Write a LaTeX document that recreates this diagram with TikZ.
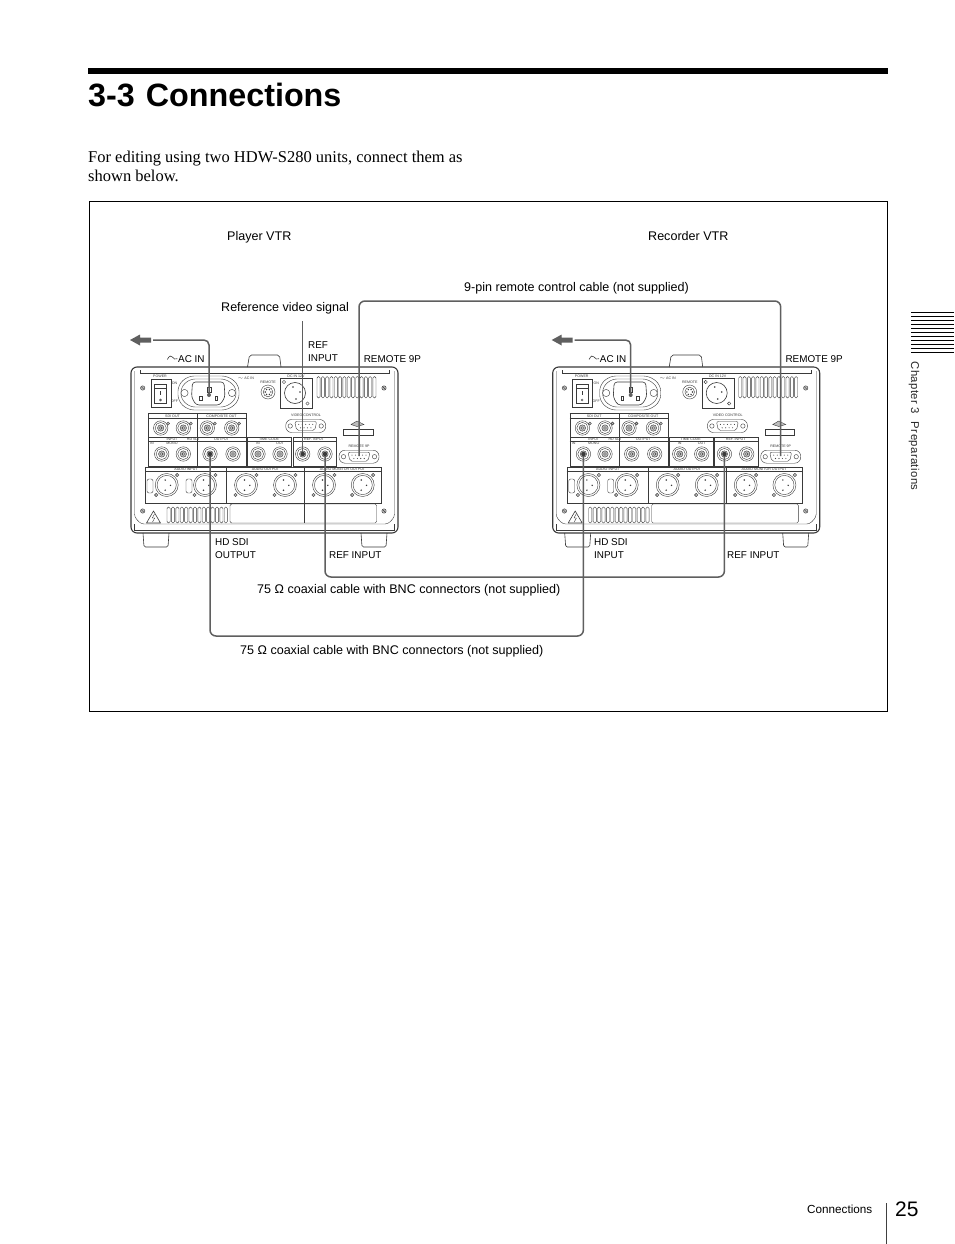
\documentclass[tikz,border=0pt]{standalone}
\usepackage{fontspec}
\setmainfont{Liberation Serif}
\setsansfont{Liberation Sans}
\newcommand{\Bnc}[2]{%
  \draw[dev] (#1,#2) circle (7.2);
  \draw[dev] (#1,#2) circle (5.6);
  \draw[dev,fill=devgray] (#1,#2) circle (3.2);
  \draw[dev,fill=white] (#1,#2) circle (1.3);
}
\newcommand{\Xlr}[2]{%
  \draw[dev] (#1,#2) circle (11.5);
  \draw[dev] (#1,#2) circle (9.6);
  \fill[devdark] (#1-1.5,#2-5) circle (.8) (#1+3.8,#2+.3) circle (.8) (#1-1.5,#2+5.2) circle (.8);
  \draw[dev,fill=devgray] (#1+10.5,#2-10) circle (1.7);
  \draw[dev,fill=devgray] (#1-10.5,#2+10) circle (1.7);
}
\newcommand{\Dsub}[2]{%
  \draw[dev,rounded corners=6] (#1-20,#2-6.5) rectangle (#1+20,#2+6.5);
  \draw[dev,rounded corners=2,fill=white] (#1-11,#2-4.5) -- (#1+11,#2-4.5) -- (#1+9,#2+4.5) -- (#1-9,#2+4.5) -- cycle;
  \foreach \k in {-7,-3.5,0,3.5,7} \fill[devdark] (#1+\k,#2-1.6) circle (.55);
  \foreach \k in {-5.2,-1.7,1.7,5.2} \fill[devdark] (#1+\k,#2+1.8) circle (.55);
  \draw[dev] (#1-15.5,#2) circle (2.2) (#1+15.5,#2) circle (2.2);
}
\newcommand{\Screw}[2]{%
  \draw[dev,fill=devgray] (#1,#2) circle (2.2);
  \draw[dev] (#1-1.3,#2-1.3) -- (#1+1.3,#2+1.3);
}
\newcommand{\Tiny}[3]{\node[tiny] at (#1,#2) {#3};}
\newcommand{\VtrUnit}[3]{%
\begin{scope}[shift={(#1,0)},name prefix=#2-]
  % feet and handle
  \draw[devl,rounded corners=1.5] (143,533) -- (144,547) -- (168,547) -- (169,533);
  \draw[devl,rounded corners=1.5] (361,533) -- (362,547) -- (386,547) -- (387,533);
  \draw[devl,rounded corners=2] (247.5,367) -- (249.5,355) -- (279.5,355) -- (281,367);
  % body
  \draw[devl,line width=1.1pt,rounded corners=6] (131,367) rectangle (398,533);
  \draw[dev,rounded corners=3] (134.5,371) -- (134.5,517) -- (141,524) -- (388,524) -- (394.5,517) -- (394.5,371);
  \draw[dev] (140,370) -- (140,373.5) -- (389,373.5) -- (389,370);
  \draw[dev] (134.5,524) -- (134.5,530) -- (394.5,530) -- (394.5,524);
  % screws
  \Screw{142.7}{388}\Screw{384}{388}\Screw{142.7}{511}\Screw{384}{511}
  % power
  \draw[dev] (150.7,379) rectangle (170.7,407);
  \draw[dev] (154.5,384) rectangle (166.5,403);
  \draw[dev] (154.5,388.5) -- (166.5,388.5);
  \draw[devl] (160.5,391) -- (160.5,395);
  \draw[dev] (160.5,400) circle (1);
  \Tiny{160}{376.2}{POWER}\Tiny{174.5}{383}{ON}\Tiny{174.5}{401}{OFF}
  % AC inlet
  \draw[dev,rounded corners=6] (188,376) -- (228,376) -- (239,385) -- (239,401) -- (228,410) -- (188,410) -- (178,401) -- (178,385) -- cycle;
  \draw[dev,rounded corners=5] (190,379) -- (226,379) -- (236,387) -- (236,399) -- (226,407) -- (190,407) -- (181,399) -- (181,387) -- cycle;
  \draw[dev] (184.5,393) circle (3.6) (232,393) circle (3.6);
  \draw[devl,fill=white,rounded corners=3] (192.5,382) -- (224,382) -- (225,397) -- (220,405) -- (196,405) -- (191.5,397) -- cycle;
  \draw[devl] (199.5,396) rectangle (202,400.5) (215,396) rectangle (217.5,400.5);
  \draw[devl] (207.5,387) rectangle (211,392.5);
  \Tiny{246}{378}{$\sim$ AC IN}
  % remote
  \draw[dev] (268,392) circle (7);
  \draw[dev] (268,392) circle (4.8);
  \foreach \a in {0,60,...,300} \fill[devdark] (268,392) ++(\a:2.8) circle (.8);
  \Tiny{268}{382}{REMOTE}
  % DC in
  \draw[dev,fill=white] (280,378) rectangle (312,408);
  \draw[devl] (295,393) circle (10.5);
  \fill[devdark] (293,387) circle (.8) (300,392) circle (.8) (296,399) circle (.8);
  \draw[dev] (284,382) circle (1.7) (307.5,403.5) circle (1.7);
  \Tiny{296}{376}{DC IN 12V}
  % vents
  \foreach \k in {0,...,13} \draw[dev,rounded corners=1.5] (317+\k*4.3,376.5) rectangle +(3.1,21.5);
  % top row panels
  \draw[dev] (148,413.5) -- (246,413.5) -- (246,437) (148,437) -- (148,413.5) (197,413.5) -- (197,437);
  \draw[dev] (148,418) -- (246,418);
  \Tiny{172.5}{415.8}{SDI OUT}\Tiny{221.5}{415.8}{COMPOSITE OUT}
  \foreach \x in {160.7,183.3,207.3,231.7} {\Bnc{\x}{428}\draw[dev,fill=devgray] (\x+7.5,423.5) circle (1.5);}
  % second row panels
  \draw[dev] (148,437) rectangle (246,466) (197,437) -- (197,466);
  \draw[dev] (148,441.5) -- (246,441.5);
  \Tiny{172}{439.3}{INPUT}\Tiny{193}{439.3}{HD SDI}\Tiny{221.5}{439.3}{OUTPUT}\Tiny{152}{443.5}{IN}\Tiny{172}{443.5}{MONO}
  \Bnc{161.7}{454}\Bnc{183.3}{454}\Bnc{210}{454}\Bnc{233}{454}
  \coordinate (hdin) at (161.7,454);
  \coordinate (hdout) at (210,454);
  \draw[dev] (247,437) rectangle (291,466) (292.7,437) rectangle (336,466);
  \draw[dev] (247,441.5) -- (291,441.5) (292.7,441.5) -- (336,441.5);
  \Tiny{269}{439.3}{TIME CODE}\Tiny{314}{439.3}{REF. INPUT}\Tiny{258}{443.5}{IN}\Tiny{280}{443.5}{OUT}
  \Bnc{258}{454}\Bnc{280}{454}\Bnc{302.7}{454}\Bnc{325}{454}
  \coordinate (refa) at (302.7,454);
  \coordinate (refb) at (325,454);
  % video control and remote
  \Tiny{306}{415.5}{VIDEO CONTROL}
  \Dsub{305.7}{426}
  \Dsub{359}{456.7}
  \Tiny{359}{446.7}{REMOTE 9P}
  \coordinate (rem) at (359,456);
  \draw[devl,fill=white] (343.3,429) rectangle (373,435);
  \draw[dev,fill=devgray] (351,424.5) -- (357,421) -- (364,424.5) -- (357,426.5) -- cycle;
  % audio panel
  \draw[dev] (145,466.7) rectangle (380.7,503.3);
  \draw[devl] (226.7,466.7) -- (226.7,503.3);
  \draw[devl] (304.3,466.7) -- (304.3,503.3);
  \draw[dev] (145,471) -- (380.7,471);
  \Tiny{186}{468.8}{AUDIO INPUT}\Tiny{265.5}{468.8}{AUDIO OUTPUT}\Tiny{342.5}{468.8}{AUDIO MONITOR OUTPUT}
  \foreach \x in {166.7,205,246,285,324,362.7} {\Xlr{\x}{485}}
  \draw[dev,rounded corners=2] (147,479) rectangle (153,493);
  \draw[dev,rounded corners=2] (186,479) rectangle (192,493);
  % bottom panels
  \foreach \k in {0,...,13} \draw[dev,rounded corners=1.5] (167+\k*4.4,507) rectangle +(3.2,16);
  \draw[devl,line join=round] (146.5,523) -- (153.5,511) -- (160.5,523) -- cycle;
  \draw[dev] (154.5,514) -- (152.3,518) -- (154.7,518) -- (152.5,522);
  \draw[dev,rounded corners=1.5] (230,504) rectangle (376.7,523);
  #3
  % labels
  \draw[devl] (167.3,359.5) .. controls (169.5,355.3) and (171,355.3) .. (172.3,357) .. controls (173.5,358.7) and (175.5,360) .. (177.3,358.7);
  \node[caplbl,anchor=base west,inner sep=0pt] (acin) at (178,362) {AC IN};
  \node[caplbl,anchor=base west,inner sep=0pt] (remlbl) at (363.6,362) {REMOTE 9P};
  % AC plug
  \coordinate (acplug) at (209,395);
  \coordinate (actail) at (153,340);
  \fill[cablegray] (130,340) -- (140,334.5) -- (140,337.5) -- (151,337.5) -- (151,342.5) -- (140,342.5) -- (140,345.5) -- cycle;
  \draw[cable,rounded corners=5] (actail) -| (acplug);
  \fill[cablegray] (acplug) circle (2);
\end{scope}}
\tikzset{
  lbl/.style={font=\sffamily\fontsize{12.55}{14}\selectfont,text=black,align=left},
  caplbl/.style={font=\sffamily\fontsize{9.9}{13}\selectfont,text=black,align=left},
  tiny/.style={font=\sffamily\fontsize{3.6}{4}\selectfont,text=devdark,inner sep=0pt},
  dev/.style={draw=devdark,line width=.4pt},
  devl/.style={draw=devdark,line width=.6pt},
  cable/.style={draw=cablegray,line width=1.5pt},
}
\definecolor{devdark}{HTML}{3A3A3A}
\definecolor{devgray}{HTML}{BDBDBD}
\definecolor{cablegray}{HTML}{5F5F5F}
\begin{document}
\begin{tikzpicture}[x=1pt,y=-1pt]
\useasboundingbox (0,0) rectangle (954,1244);
\fill[white] (0,0) rectangle (954,1244);
% heading
\fill[black] (88,68) rectangle (888,74);
\node[font=\sffamily\bfseries\fontsize{32.3}{36}\selectfont,anchor=base west,inner sep=0pt] (title) at (88,106.5) {3-3\hspace{.34em}Connections};
\node[font=\fontsize{16.5}{19}\selectfont,anchor=north west,inner sep=0pt,align=left] (intro) at (88,150.5) {For editing using two HDW-S280 units, connect them as\\shown below.};
% frame
\draw[black,line width=.9pt] (89,201.8) rectangle (887.6,711.6);
% units
\VtrUnit{0}{p}{\draw[dev] (304.3,504) -- (304.3,523);}
\VtrUnit{421.7}{r}{}
% labels
\node[lbl,anchor=base west,inner sep=0pt] (playerlbl) at (227,240.5) {Player VTR};
\node[lbl,anchor=base west,inner sep=0pt] (recorderlbl) at (648,240.5) {Recorder VTR};
\node[lbl,anchor=base west,inner sep=0pt] (pinlbl) at (464,291) {9-pin remote control cable (not supplied)};
\node[lbl,anchor=base west,inner sep=0pt] (reflbl) at (221,311) {Reference video signal};
\node[caplbl,anchor=west,inner sep=0pt] (refin) at (308,351.5) {REF\\INPUT};
\node[caplbl,anchor=west,inner sep=0pt] (hdo) at (215,548.5) {HD SDI\\OUTPUT};
\node[caplbl,anchor=base west,inner sep=0pt] (rio) at (329,558) {REF INPUT};
\node[caplbl,anchor=west,inner sep=0pt] (hdi) at (594,548.5) {HD SDI\\INPUT};
\node[caplbl,anchor=base west,inner sep=0pt] (rii) at (727,558) {REF INPUT};
\node[lbl,anchor=base west,inner sep=0pt] (coax1) at (257,593) {75 Ω coaxial cable with BNC connectors (not supplied)};
\node[lbl,anchor=base west,inner sep=0pt] (coax2) at (240,654) {75 Ω coaxial cable with BNC connectors (not supplied)};
% cables
\coordinate (refsrc) at (302.7,321);
\coordinate (toprail) at (570,301);
\coordinate (railb) at (500,577);
\coordinate (raila) at (400,636);
\draw[cable] (refsrc) -- (p-refa);
\draw[cable,rounded corners=6] (p-rem) |- (toprail) -| (r-rem);
\draw[cable,rounded corners=6] (p-refb) |- (railb) -| (r-refa);
\draw[cable,rounded corners=6] (p-hdout) |- (raila) -| (r-hdin);
\foreach \c in {p-hdout,p-refb,p-refa,r-hdin,r-refa} \fill[devdark] (\c) circle (2.2);
% side tab
\foreach \k in {0,...,10} \draw[black,line width=.7pt] (911,312.7+\k*4) -- (954,312.7+\k*4);
\node[font=\sffamily\fontsize{11.3}{12}\selectfont,text=black!85,rotate=-90,anchor=base west,inner sep=0pt] (chap) at (911,361.5) {\addfontfeature{LetterSpace=3.5}Chapter 3\hspace{.7em}Preparations};
% footer
\node[font=\sffamily\fontsize{11.7}{13}\selectfont,anchor=base west,inner sep=0pt] (foot) at (807,1213) {Connections};
\draw[black!75,line width=.7pt] (886,1203) -- (886,1244);
\node[font=\sffamily\fontsize{21}{24}\selectfont,anchor=base west,inner sep=0pt] (pg) at (895,1216.5) {25};
\end{tikzpicture}
\end{document}
